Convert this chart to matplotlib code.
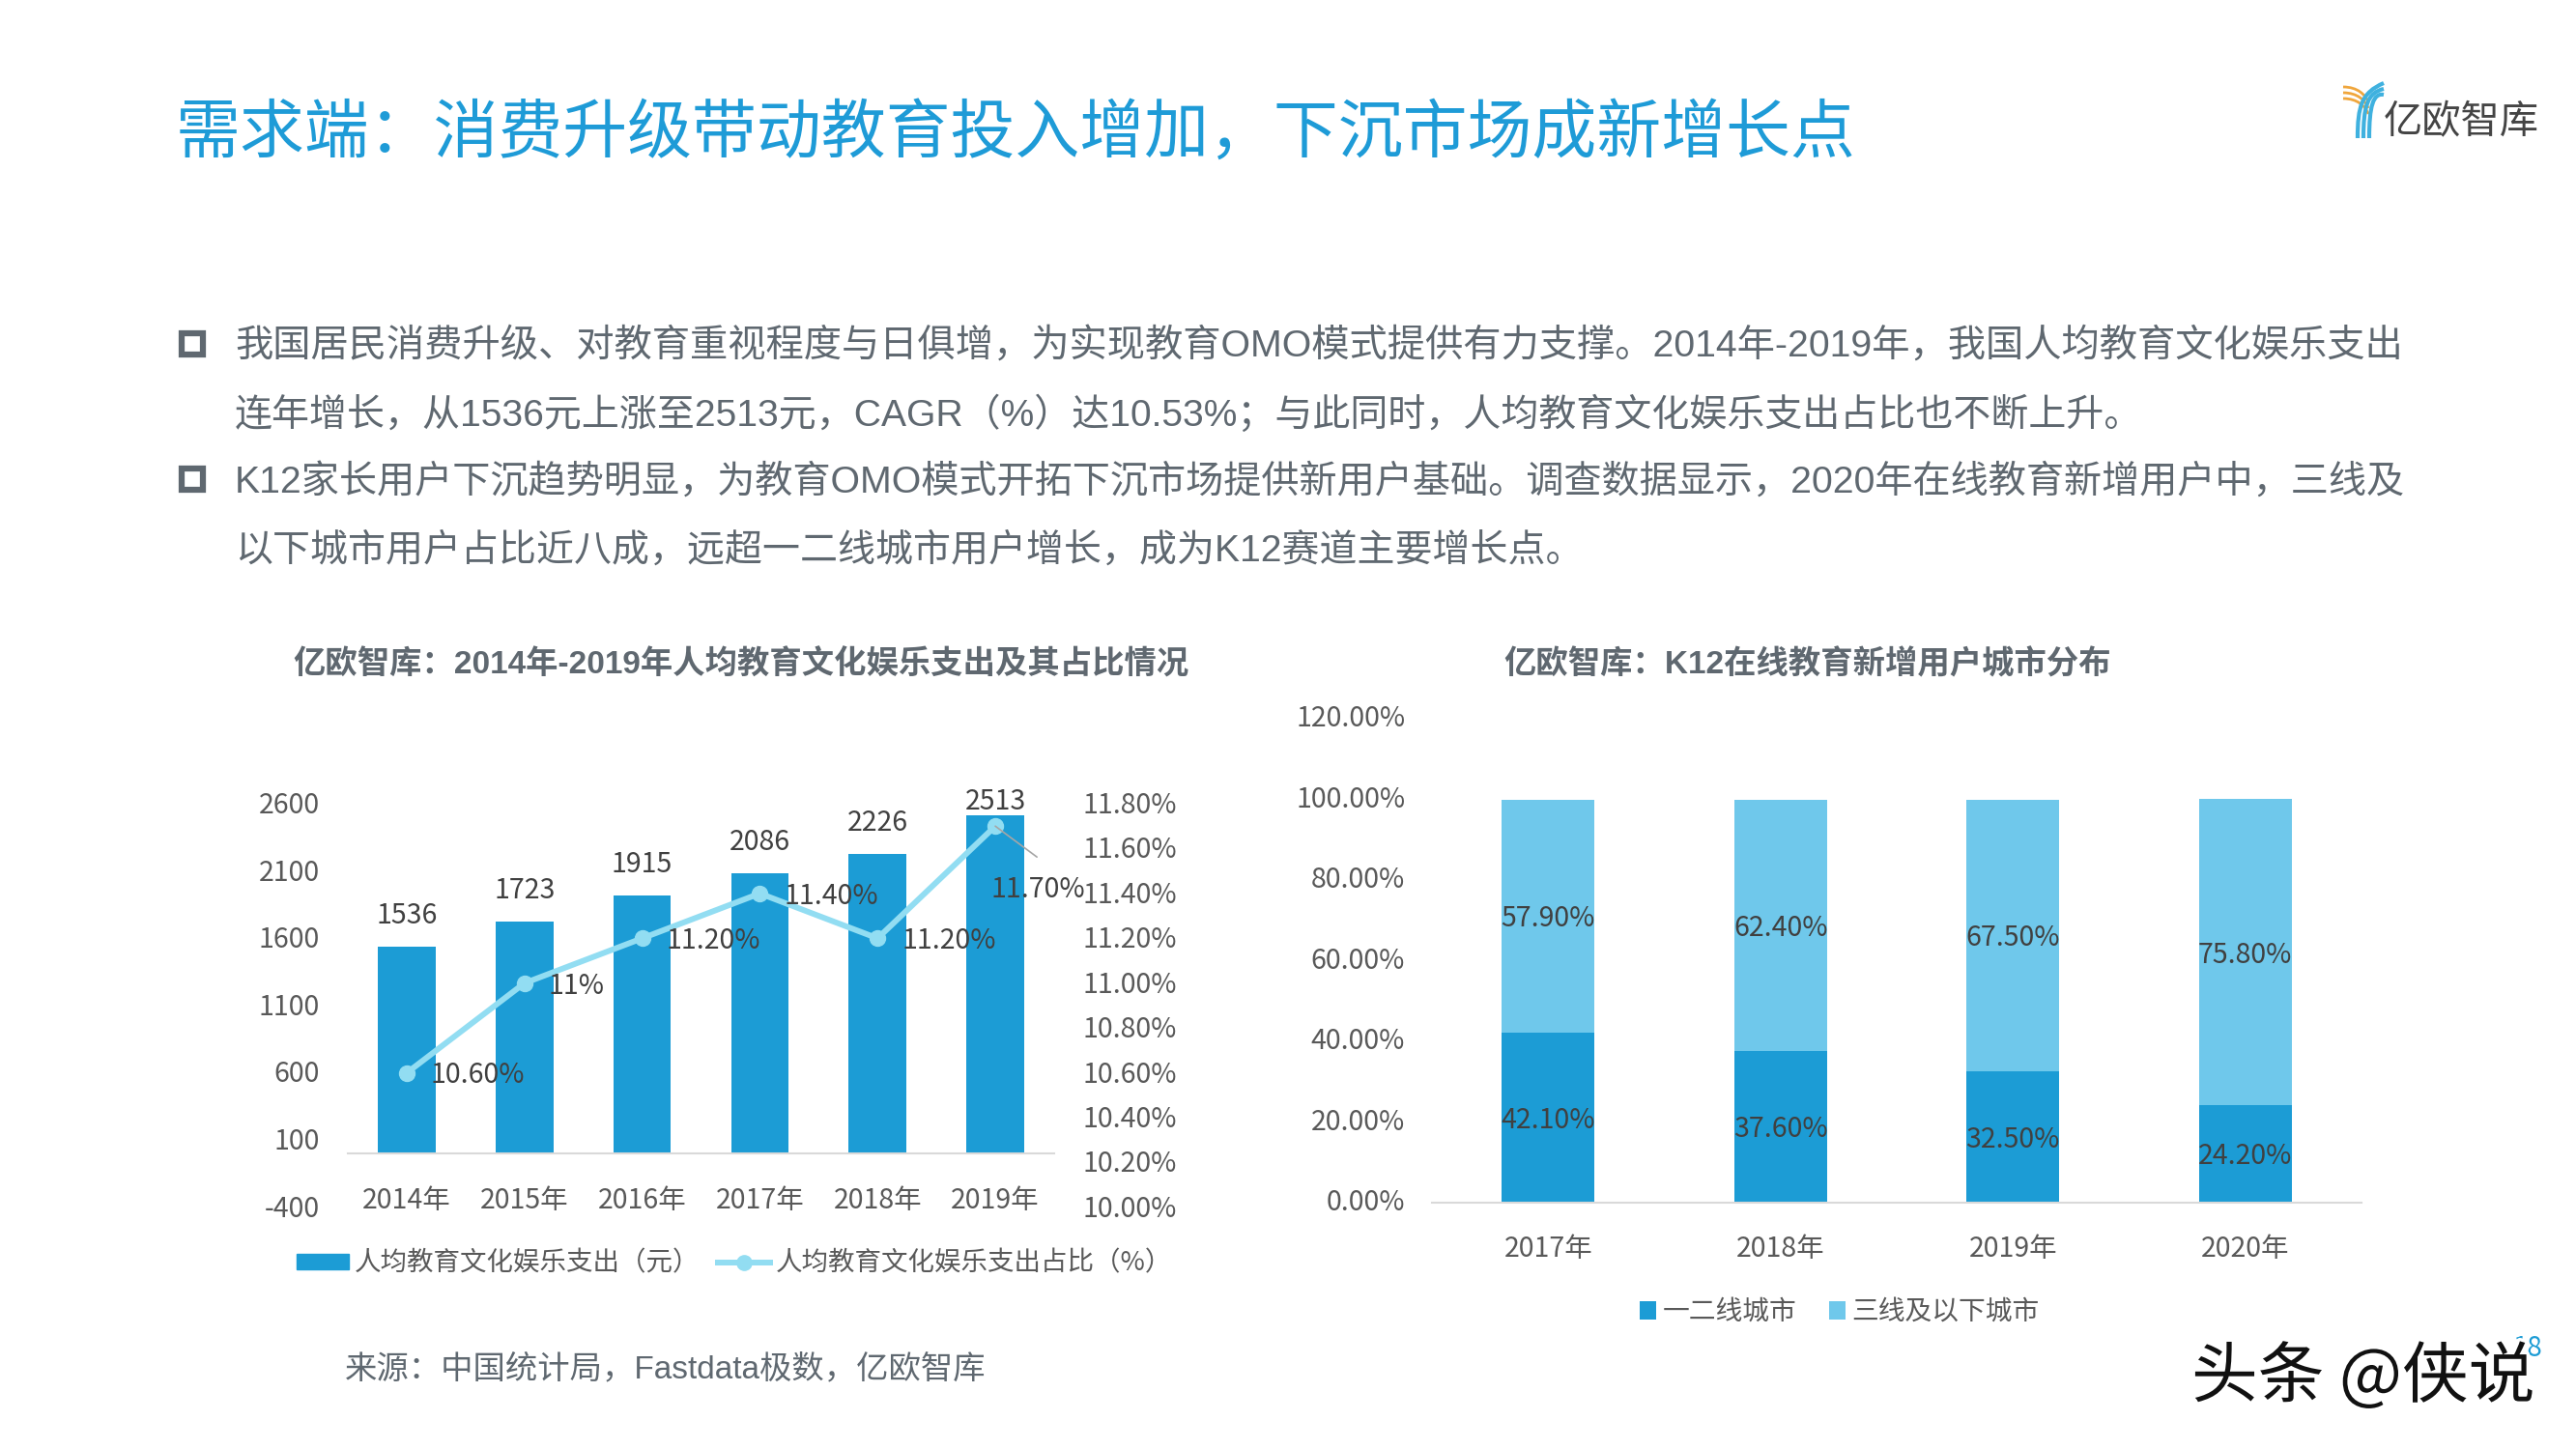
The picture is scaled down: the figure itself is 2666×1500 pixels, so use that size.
import matplotlib
matplotlib.use('Agg')
import matplotlib.pyplot as plt
import matplotlib.patheffects as pe
from matplotlib.patches import Rectangle, PathPatch
from matplotlib.path import Path
from matplotlib.lines import Line2D
from matplotlib.transforms import ScaledTranslation

plt.rcParams['font.family'] = ['Noto Sans CJK SC', 'DejaVu Sans']
plt.rcParams['axes.unicode_minus'] = False

# 左图数据
years_left = ['2014年', '2015年', '2016年', '2017年', '2018年', '2019年']
spending = [1536, 1723, 1915, 2086, 2226, 2513]
share = [10.6, 11.0, 11.2, 11.4, 11.2, 11.7]
share_labels = ['10.60%', '11%', '11.20%', '11.40%', '11.20%', '11.70%']
left_ticks = [-400, 100, 600, 1100, 1600, 2100, 2600]
right_ticks = [10.0, 10.2, 10.4, 10.6, 10.8, 11.0, 11.2, 11.4, 11.6, 11.8]

# 右图数据
years_right = ['2017年', '2018年', '2019年', '2020年']
tier12 = [42.1, 37.6, 32.5, 24.2]
tier3 = [57.9, 62.4, 67.5, 75.8]
pct_ticks = [0, 20, 40, 60, 80, 100, 120]

title = '需求端：消费升级带动教育投入增加，下沉市场成新增长点'
body_lines = [
    '我国居民消费升级、对教育重视程度与日俱增，为实现教育OMO模式提供有力支撑。2014年-2019年，我国人均教育文化娱乐支出',
    '连年增长，从1536元上涨至2513元，CAGR（%）达10.53%；与此同时，人均教育文化娱乐支出占比也不断上升。',
    'K12家长用户下沉趋势明显，为教育OMO模式开拓下沉市场提供新用户基础。调查数据显示，2020年在线教育新增用户中，三线及',
    '以下城市用户占比近八成，远超一二线城市用户增长，成为K12赛道主要增长点。',
]

BLUE = '#1C9CD5'
LIGHT = '#6FC8EB'
LINE = '#92DDF2'
GREY = '#595959'
DARK = '#404040'
TEXT = '#5F6870'
MIXED = ['Liberation Sans', 'Noto Sans CJK SC']

W, H = 2666, 1500
fig = plt.figure(figsize=(W / 100, H / 100), dpi=100, facecolor='white')


def px_axes(x0, y0, x1, y1):
    return fig.add_axes([x0 / W, 1 - y1 / H, (x1 - x0) / W, (y1 - y0) / H])


def nudge_labels(labels, up_pt):
    # 刻度文字上下微调
    for lab in labels:
        lab.set_transform(lab.get_transform() + ScaledTranslation(0, up_pt / 72, fig.dpi_scale_trans))


# 整页背景层，用像素坐标放文字
page = fig.add_axes([0, 0, 1, 1])
page.set_xlim(0, W)
page.set_ylim(H, 0)
page.axis('off')

page.text(182, 139, title, fontsize=48.2, color='#1E9BD7', va='center')

for y, size, line in zip([359, 429, 500, 570], [28.3, 28.05, 28.2, 28.05], body_lines):
    page.text(243, y, line, fontsize=size, color=TEXT, va='center', family=MIXED)
for y in [356, 496]:
    page.add_patch(Rectangle((188, y - 11), 22, 22, fill=False, edgecolor=TEXT, linewidth=4.5))

page.text(767, 688, '亿欧智库：2014年-2019年人均教育文化娱乐支出及其占比情况',
          fontsize=24, fontweight='bold', color=TEXT, ha='center', va='center', family=MIXED)
page.text(1871, 688, '亿欧智库：K12在线教育新增用户城市分布',
          fontsize=24, fontweight='bold', color=TEXT, ha='center', va='center', family=MIXED)
page.text(357, 1418, '来源：中国统计局，Fastdata极数，亿欧智库', fontsize=24, color=TEXT, va='center', family=MIXED)

# logo
for dx in [-6, 0, 6]:
    page.add_patch(PathPatch(Path([(2425, 96 + dx), (2440, 96 + dx), (2448, 104 + dx), (2451, 112 + dx)],
                                  [Path.MOVETO, Path.CURVE4, Path.CURVE4, Path.CURVE4]),
                             fill=False, edgecolor='#F0A63C', linewidth=2))
for dx in [-6, 0, 6]:
    page.add_patch(PathPatch(Path([(2446 + dx, 143), (2446 + dx, 110), (2450 + dx, 96), (2467, 92 + dx)],
                                  [Path.MOVETO, Path.CURVE4, Path.CURVE4, Path.CURVE4]),
                             fill=False, edgecolor='#3FB1DF', linewidth=3))
page.text(2467, 127, '亿欧智库', fontsize=29, color='#444444', va='center', fontweight='light')

# 页码和水印
page.text(2616, 1396, '18', fontsize=20, color=BLUE, ha='center', va='center')
page.text(2268, 1427, '头条 @侠说', fontsize=49.5, color='#111111', va='center',
          path_effects=[pe.withStroke(linewidth=5, foreground='white')])

# 左图
ax1 = px_axes(360, 832, 1091, 1250)
x = range(len(years_left))
ax1.bar(x, spending, width=0.49, color=BLUE, label='人均教育文化娱乐支出（元）')
ax1.set_xlim(-0.5, 5.5)
ax1.set_ylim(-400, 2600)
ax1.set_yticks(left_ticks)
ax1.set_xticks(list(x), years_left)
ax1.tick_params(axis='y', length=0, pad=21, labelsize=20.5, labelcolor=GREY)
ax1.tick_params(axis='x', length=0, pad=24.5, labelsize=20.5, labelcolor=GREY)
for s in ['top', 'left', 'right']:
    ax1.spines[s].set_visible(False)
ax1.spines['bottom'].set_position(('data', 0))
ax1.spines['bottom'].set_color('#D9D9D9')
ax1.spines['bottom'].set_linewidth(1.5)
ax1.patch.set_alpha(0)
nudge_labels(ax1.get_yticklabels(), 1.2)
for i, v in enumerate(spending):
    # 最后一个标签贴近柱顶
    off = 10 if i == 5 else 23
    ax1.annotate(str(v), (i, v), xytext=(0, off), textcoords='offset points',
                 ha='center', va='center', fontsize=20.5, color=DARK, annotation_clip=False)

ax2 = ax1.twinx()
ax2.plot(x, share, color=LINE, linewidth=4.3, marker='o', markersize=11.5, label='人均教育文化娱乐支出占比（%）')
ax2.set_ylim(10.0, 11.8)
ax2.set_yticks(right_ticks, ['%.2f%%' % t for t in right_ticks])
ax2.tick_params(axis='y', length=0, pad=21, labelsize=20.5, labelcolor=GREY)
for s in ax2.spines.values():
    s.set_visible(False)
nudge_labels(ax2.get_yticklabels(), 1.2)
for i, (v, lab) in enumerate(zip(share, share_labels)):
    if i == 5:
        ax2.annotate('', (i, v), xytext=(31, -23), textcoords='offset points',
                     arrowprops=dict(arrowstyle='-', color='#A6A6A6', linewidth=1.2, shrinkA=0, shrinkB=0))
        ax2.annotate(lab, (i, v), xytext=(-3, -47), textcoords='offset points',
                     ha='left', va='center', fontsize=20.5, color=DARK)
    else:
        ax2.annotate(lab, (i, v), xytext=(18, -2), textcoords='offset points',
                     ha='left', va='center', fontsize=20.5, color=DARK)

legend_handles = [Rectangle((0, 0), 1, 1, color=BLUE),
                  Line2D([], [], color=LINE, linewidth=4.3, marker='o', markersize=11)]
page.legend(legend_handles, ['人均教育文化娱乐支出（元）', '人均教育文化娱乐支出占比（%）'],
            loc='center', bbox_to_anchor=(760 / W, 1 - 1308 / H), ncol=2, frameon=False, fontsize=19.8,
            labelcolor=GREY, handlelength=1.95, handleheight=0.5, handletextpad=0.2, columnspacing=0.7,
            borderpad=0, borderaxespad=0)

# 右图
ax3 = px_axes(1482, 744, 2444, 1245)
x3 = range(len(years_right))
ax3.bar(x3, tier12, width=0.4, color=BLUE, label='一二线城市')
ax3.bar(x3, tier3, width=0.4, bottom=tier12, color=LIGHT, label='三线及以下城市')
ax3.set_xlim(-0.5, 3.5)
ax3.set_ylim(0, 120)
ax3.set_yticks(pct_ticks, ['%.2f%%' % t for t in pct_ticks])
ax3.set_xticks(list(x3), years_right)
ax3.tick_params(axis='y', length=0, pad=20, labelsize=20.5, labelcolor=GREY)
ax3.tick_params(axis='x', length=0, pad=23.5, labelsize=20.5, labelcolor=GREY)
for s in ['top', 'left', 'right']:
    ax3.spines[s].set_visible(False)
ax3.spines['bottom'].set_color('#D9D9D9')
ax3.spines['bottom'].set_linewidth(1.5)
ax3.patch.set_alpha(0)
nudge_labels(ax3.get_yticklabels(), 2.4)
for i, (a, b) in enumerate(zip(tier12, tier3)):
    ax3.annotate('%.2f%%' % a, (i, a / 2), xytext=(0, -2), textcoords='offset points',
                 ha='center', va='center', fontsize=20.5, color=DARK)
    ax3.annotate('%.2f%%' % b, (i, a + b / 2), xytext=(0, -2), textcoords='offset points',
                 ha='center', va='center', fontsize=20.5, color=DARK)
ax3.legend(loc='center', bbox_to_anchor=((1904 - 1482) / 962, (1245 - 1358) / 501), ncol=2, frameon=False,
           fontsize=20, labelcolor=GREY, handlelength=0.6, handleheight=0.7, handletextpad=0.25,
           columnspacing=1.2, borderpad=0, borderaxespad=0)

fig.savefig('out.png', dpi=100)
